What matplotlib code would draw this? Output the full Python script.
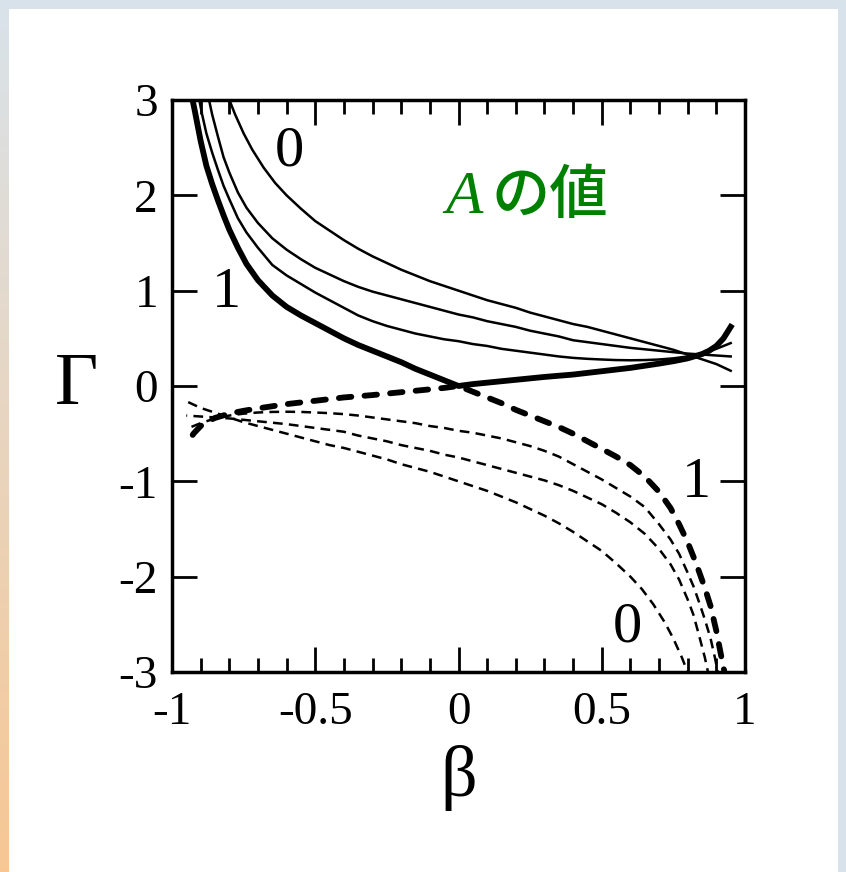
import numpy as np
import matplotlib
matplotlib.use("Agg")
import matplotlib.pyplot as plt
from matplotlib.ticker import MultipleLocator, FormatStrFormatter

plt.rcParams['font.family'] = ['Liberation Serif', 'DejaVu Serif']
plt.rcParams['axes.unicode_minus'] = False
plt.rcParams['lines.scale_dashes'] = False

# solid curves, top to bottom on the left: A = 0, two middle values, A = 1 (thick)
beta_s0 = [-0.81, -0.78, -0.75, -0.72, -0.68, -0.64, -0.60, -0.55, -0.50, -0.45, -0.40,
           -0.35, -0.30, -0.25, -0.20, -0.15, -0.10, -0.05, 0.0, 0.05, 0.1, 0.15, 0.2,
           0.25, 0.3, 0.35, 0.4, 0.45, 0.5, 0.55, 0.6, 0.65, 0.7, 0.75, 0.8, 0.85, 0.9, 0.95]
gam_s0 = [3.08, 2.85, 2.65, 2.48, 2.29, 2.13, 2.00, 1.86, 1.73, 1.63, 1.53,
          1.44, 1.36, 1.29, 1.22, 1.16, 1.10, 1.05, 1.00, 0.95, 0.90, 0.86, 0.82,
          0.77, 0.73, 0.69, 0.65, 0.62, 0.58, 0.54, 0.50, 0.46, 0.42, 0.38, 0.33, 0.28, 0.23, 0.16]

beta_s1 = [-0.875, -0.86, -0.84, -0.82, -0.80, -0.77, -0.74, -0.70, -0.65, -0.60, -0.55,
           -0.50, -0.45, -0.40, -0.35, -0.30, -0.25, -0.20, -0.15, -0.10, -0.05, 0.0,
           0.05, 0.1, 0.15, 0.2, 0.25, 0.3, 0.35, 0.4, 0.45, 0.5, 0.55, 0.6, 0.65, 0.7,
           0.75, 0.8, 0.85, 0.9, 0.95]
gam_s1 = [3.06, 2.85, 2.62, 2.40, 2.24, 2.03, 1.87, 1.71, 1.55, 1.43, 1.33,
          1.24, 1.17, 1.10, 1.04, 0.99, 0.95, 0.91, 0.87, 0.83, 0.79, 0.75,
          0.72, 0.68, 0.65, 0.62, 0.58, 0.55, 0.52, 0.48, 0.46, 0.44, 0.42, 0.40, 0.385, 0.37,
          0.355, 0.34, 0.33, 0.32, 0.31]

beta_s2 = [-0.91, -0.895, -0.88, -0.86, -0.84, -0.82, -0.80, -0.77, -0.74, -0.70, -0.65,
           -0.60, -0.55, -0.50, -0.45, -0.40, -0.35, -0.30, -0.25, -0.20, -0.15, -0.10,
           -0.05, 0.0, 0.05, 0.1, 0.15, 0.2, 0.25, 0.3, 0.35, 0.4, 0.45, 0.5, 0.55, 0.6,
           0.65, 0.7, 0.75, 0.8, 0.85, 0.9, 0.95]
gam_s2 = [3.08, 2.85, 2.65, 2.45, 2.27, 2.10, 1.96, 1.76, 1.61, 1.45, 1.27,
          1.16, 1.07, 0.98, 0.90, 0.82, 0.74, 0.68, 0.63, 0.59, 0.55, 0.52,
          0.49, 0.47, 0.44, 0.42, 0.39, 0.37, 0.35, 0.33, 0.31, 0.295, 0.285, 0.278, 0.272, 0.27,
          0.272, 0.278, 0.29, 0.31, 0.34, 0.39, 0.45]

beta_s3 = [-0.935, -0.92, -0.90, -0.88, -0.86, -0.84, -0.82, -0.80, -0.77, -0.74, -0.70,
           -0.65, -0.60, -0.55, -0.50, -0.45, -0.40, -0.35, -0.30, -0.25, -0.20, -0.15,
           -0.10, -0.05, 0.0, 0.05, 0.1, 0.2, 0.3, 0.4, 0.5, 0.6, 0.7, 0.75, 0.8, 0.85,
           0.875, 0.9, 0.925, 0.95]
gam_s3 = [3.10, 2.88, 2.57, 2.31, 2.12, 1.95, 1.79, 1.64, 1.45, 1.28, 1.11,
          0.95, 0.83, 0.74, 0.66, 0.58, 0.50, 0.43, 0.37, 0.31, 0.25, 0.18,
          0.12, 0.06, 0.00, 0.02, 0.035, 0.065, 0.095, 0.12, 0.155, 0.19, 0.235, 0.26, 0.29, 0.335,
          0.37, 0.42, 0.50, 0.62]

# dashed curves (lower half)
beta_d0 = [0.81, 0.78, 0.75, 0.72, 0.68, 0.64, 0.60, 0.55, 0.50, 0.45, 0.40,
           0.35, 0.30, 0.25, 0.20, 0.15, 0.10, 0.05, 0.0, -0.05, -0.1, -0.15, -0.2,
           -0.25, -0.3, -0.35, -0.4, -0.45, -0.5, -0.55, -0.6, -0.65, -0.7, -0.75, -0.8, -0.85, -0.9, -0.95]
gam_d0 = [-3.08, -2.85, -2.65, -2.48, -2.29, -2.13, -2.00, -1.86, -1.73, -1.63, -1.53,
          -1.44, -1.36, -1.29, -1.22, -1.16, -1.10, -1.05, -1.00, -0.95, -0.90, -0.86, -0.82,
          -0.77, -0.73, -0.69, -0.65, -0.62, -0.58, -0.54, -0.50, -0.46, -0.42, -0.38, -0.33, -0.28, -0.23, -0.16]

beta_d1 = [0.875, 0.86, 0.84, 0.82, 0.80, 0.77, 0.74, 0.70, 0.65, 0.60, 0.55,
           0.50, 0.45, 0.40, 0.35, 0.30, 0.25, 0.20, 0.15, 0.10, 0.05, 0.0,
           -0.05, -0.1, -0.15, -0.2, -0.25, -0.3, -0.35, -0.4, -0.45, -0.5, -0.55, -0.6, -0.65, -0.7,
           -0.75, -0.8, -0.85, -0.9, -0.95]
gam_d1 = [-3.06, -2.85, -2.62, -2.40, -2.24, -2.03, -1.87, -1.71, -1.55, -1.43, -1.33,
          -1.24, -1.17, -1.10, -1.04, -0.99, -0.95, -0.91, -0.87, -0.83, -0.79, -0.75,
          -0.72, -0.68, -0.65, -0.62, -0.58, -0.55, -0.52, -0.48, -0.46, -0.44, -0.42, -0.40, -0.385, -0.37,
          -0.355, -0.34, -0.33, -0.32, -0.31]

beta_d2 = [0.91, 0.895, 0.88, 0.86, 0.84, 0.82, 0.80, 0.77, 0.74, 0.70, 0.65,
           0.60, 0.55, 0.50, 0.45, 0.40, 0.35, 0.30, 0.25, 0.20, 0.15, 0.10,
           0.05, 0.0, -0.05, -0.1, -0.15, -0.2, -0.25, -0.3, -0.35, -0.4, -0.45, -0.5, -0.55, -0.6,
           -0.65, -0.7, -0.75, -0.8, -0.85, -0.9, -0.95]
gam_d2 = [-3.08, -2.85, -2.65, -2.45, -2.27, -2.10, -1.96, -1.76, -1.61, -1.45, -1.27,
          -1.16, -1.07, -0.98, -0.90, -0.82, -0.74, -0.68, -0.63, -0.59, -0.55, -0.52,
          -0.49, -0.47, -0.44, -0.42, -0.39, -0.37, -0.35, -0.33, -0.31, -0.295, -0.285, -0.278, -0.272, -0.27,
          -0.272, -0.278, -0.29, -0.31, -0.34, -0.39, -0.45]

beta_d3 = [0.935, 0.92, 0.90, 0.88, 0.86, 0.84, 0.82, 0.80, 0.77, 0.74, 0.70,
           0.65, 0.60, 0.55, 0.50, 0.45, 0.40, 0.35, 0.30, 0.25, 0.20, 0.15,
           0.10, 0.05, 0.0, -0.05, -0.1, -0.2, -0.3, -0.4, -0.5, -0.6, -0.7, -0.75, -0.8, -0.85,
           -0.875, -0.9, -0.925, -0.95]
gam_d3 = [-3.10, -2.88, -2.57, -2.31, -2.12, -1.95, -1.79, -1.64, -1.45, -1.28, -1.11,
          -0.95, -0.83, -0.74, -0.66, -0.58, -0.50, -0.43, -0.37, -0.31, -0.25, -0.18,
          -0.12, -0.06, 0.00, -0.02, -0.035, -0.065, -0.095, -0.12, -0.155, -0.19, -0.235, -0.26, -0.29, -0.335,
          -0.37, -0.42, -0.50, -0.62]

x_ticks = [-1, -0.5, 0, 0.5, 1]
y_ticks = [-3, -2, -1, 0, 1, 2, 3]

W, H = 846, 872
fig = plt.figure(figsize=(W / 100, H / 100), dpi=100)

# background frame: grey-blue strips, left strip fading to orange
bg = np.ones((H, W, 3))
top_c = np.array([0.85, 0.89, 0.92])
bot_c = np.array([0.97, 0.78, 0.58])
t = np.linspace(0, 1, H)[:, None]
strip = top_c * (1 - t) + bot_c * t
bg[:, :9, :] = strip[:, None, :].repeat(9, axis=1)
bg[:10, :, :] = top_c
bg[:, W - 9:, :] = top_c
bax = fig.add_axes([0, 0, 1, 1], zorder=-10)
bax.imshow(bg, aspect='auto', extent=[0, 1, 0, 1])
bax.axis('off')

ax = fig.add_axes([172 / W, 1 - 672 / H, 573 / W, 572 / H])

thin = 1.8
thick = 4.2
for b, g in [(beta_s0, gam_s0), (beta_s1, gam_s1), (beta_s2, gam_s2)]:
    ax.plot(b, g, color='black', lw=thin, solid_joinstyle='round')
ax.plot(beta_s3, gam_s3, color='black', lw=thick, solid_joinstyle='round')

for b, g in [(beta_d0, gam_d0), (beta_d1, gam_d1), (beta_d2, gam_d2)]:
    ax.plot(b, g, color='black', lw=thin, dashes=(7, 4.5))
ax.plot(beta_d3, gam_d3, color='black', lw=thick, dashes=(9, 9.5),
        dash_capstyle='round')

ax.set_xlim(-1, 1)
ax.set_ylim(-3, 3)
ax.set_xticks(x_ticks)
ax.set_yticks(y_ticks)
ax.xaxis.set_minor_locator(MultipleLocator(0.1))
ax.xaxis.set_major_formatter(FormatStrFormatter('%g'))
ax.yaxis.set_major_formatter(FormatStrFormatter('%g'))
ax.tick_params(which='both', direction='in', top=True, right=True, width=2,
               labelsize=34, colors='black')
ax.tick_params(which='major', length=18, pad=14)
ax.tick_params(axis='y', which='major', pad=10)
ax.tick_params(which='minor', length=10)
for s in ax.spines.values():
    s.set_linewidth(2.5)

ax.set_xlabel('β', fontsize=52, labelpad=8)
ax.set_ylabel('Γ', fontsize=54, rotation=0, labelpad=30, va='center')

# curve labels
ax.text(-0.59, 2.46, '0', fontsize=42, ha='center', va='center')
ax.text(-0.81, 0.98, '1', fontsize=42, ha='center', va='center')
ax.text(0.83, -1.02, '1', fontsize=42, ha='center', va='center')
ax.text(0.59, -2.53, '0', fontsize=42, ha='center', va='center')

fig.text(445 / W, 1 - 213 / H, 'A', fontsize=44, color='#008000',
         style='italic', family='Liberation Serif', va='baseline')
fig.text(491 / W, 1 - 213 / H, 'の値', fontsize=42, color='#008000',
         family=['Noto Sans CJK JP', 'DejaVu Sans'], weight='medium', va='baseline')

fig.savefig('out.png', dpi=100)
